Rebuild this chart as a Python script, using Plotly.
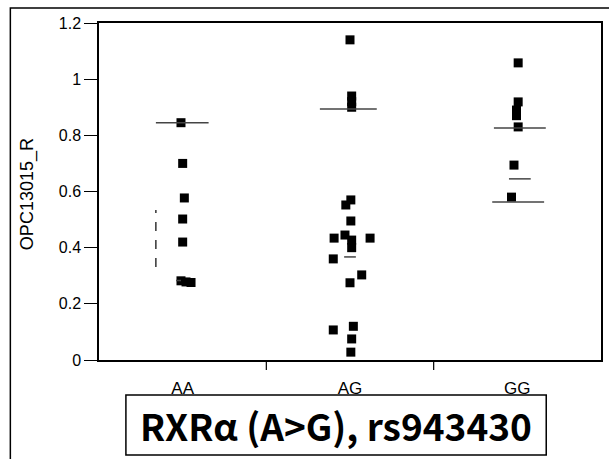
import plotly.graph_objects as go

# ---- data ----
categories = ["AA", "AG", "GG"]

aa_values = [0.845, 0.70, 0.577, 0.502, 0.42, 0.282, 0.278, 0.276]
aa_jitter = [-0.01, 0.0, 0.01, 0.0, 0.0, -0.01, 0.02, 0.05]

ag_values = [1.14, 0.94, 0.92, 0.90, 0.57, 0.552, 0.495, 0.445, 0.434, 0.434,
             0.427, 0.40, 0.36, 0.303, 0.275, 0.12, 0.107, 0.075, 0.028]
ag_jitter = [0.0, 0.01, 0.01, 0.01, 0.005, -0.025, 0.005, -0.03, -0.095, 0.12,
             0.01, 0.01, -0.10, 0.07, 0.0, 0.02, -0.10, 0.01, 0.005]

gg_values = [1.058, 0.919, 0.89, 0.87, 0.83, 0.694, 0.58]
gg_jitter = [0.005, 0.005, -0.005, -0.005, 0.005, -0.02, -0.035]

# summary lines (value, left offset, right offset) per group
aa_lines = [(0.845, -0.16, 0.155), (0.283, -0.04, -0.01)]
ag_lines = [(0.894, -0.18, 0.16), (0.367, -0.035, 0.035)]
gg_lines = [(0.826, -0.14, 0.17), (0.645, -0.05, 0.08), (0.563, -0.15, 0.16)]
aa_sd_range = (0.331, 0.534)

y_tickvals = [0, 0.2, 0.4, 0.6, 0.8, 1.0, 1.2]
y_ticktext = ["0", "0.2", "0.4", "0.6", "0.8", "1", "1.2"]

y_title = "OPC13015_R"
box_title = "RXRα (A>G), rs943430"

FONT = "Liberation Sans, Arial, sans-serif"

fig = go.Figure()

groups = [(aa_values, aa_jitter), (ag_values, ag_jitter), (gg_values, gg_jitter)]
for i, (vals, jit) in enumerate(groups):
    fig.add_trace(go.Scatter(
        x=[i + j for j in jit], y=vals, mode="markers",
        marker=dict(symbol="square", size=9, color="black",
                    line=dict(width=0)),
        showlegend=False, hoverinfo="skip"))

for i, lines in enumerate([aa_lines, ag_lines, gg_lines]):
    for (v, a, b) in lines:
        fig.add_trace(go.Scatter(
            x=[i + a, i + b], y=[v, v], mode="lines",
            line=dict(color="#444", width=1.5),
            showlegend=False, hoverinfo="skip"))

fig.add_trace(go.Scatter(
    x=[-0.16, -0.16], y=list(aa_sd_range), mode="lines",
    line=dict(color="black", width=1.2, dash="dash"),
    showlegend=False, hoverinfo="skip"))

fig.update_layout(
    width=609, height=459,
    margin=dict(l=99, r=6, t=23, b=99),
    paper_bgcolor="white", plot_bgcolor="white",
    font=dict(family=FONT, color="black"),
    xaxis=dict(
        range=[-0.5, 2.5], tickmode="array", tickvals=[0, 1, 2],
        ticktext=categories, ticks="outside", ticklen=12,
        tickcolor="rgba(0,0,0,0)", showgrid=False, zeroline=False,
        showline=True, linecolor="black", linewidth=1.5, mirror=True,
        tickfont=dict(size=17, family=FONT)),
    yaxis=dict(
        range=[0, 1.2], tickmode="array", tickvals=y_tickvals,
        ticktext=y_ticktext, ticks="outside", ticklen=13, tickwidth=1.2,
        tickcolor="black", showgrid=False, zeroline=False,
        showline=True, linecolor="black", linewidth=1.5, mirror=True,
        tickfont=dict(size=16, family=FONT)),
)

# category separators below the axis
for xs in [0.5, 1.5]:
    fig.add_shape(type="line", xref="x", yref="y domain",
                  x0=xs, x1=xs, y0=0, y1=-0.03,
                  line=dict(color="black", width=1.2))

# outer frame
fig.add_shape(type="rect", xref="paper", yref="paper",
              x0=-0.1766, x1=1.2, y0=-0.5, y1=1.0445,
              line=dict(color="black", width=1.5))

# title box
fig.add_shape(type="rect", xref="paper", yref="paper",
              x0=0.0536, x1=0.8909, y0=-0.2819, y1=-0.1039,
              line=dict(color="black", width=1.5), fillcolor="white")

fig.add_annotation(text="<b>" + box_title + "</b>", xref="paper", yref="paper",
                   x=0.472, y=-0.193, xanchor="center", yanchor="middle",
                   showarrow=False,
                   font=dict(size=37, family="Noto Sans CJK JP, sans-serif",
                             color="black"))

fig.add_annotation(text=y_title, xref="paper", yref="paper",
                   x=-0.1409, y=0.493, xanchor="center", yanchor="middle",
                   textangle=-90, showarrow=False,
                   font=dict(size=18, family=FONT, color="black"))

fig.write_html("out.html")
